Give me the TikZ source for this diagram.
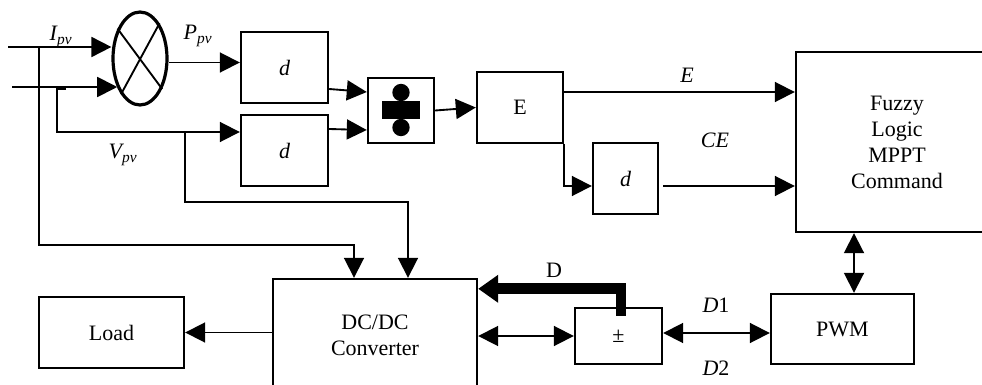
\documentclass[tikz,border=0pt]{standalone}
\usepackage{fontspec}
\setmainfont{Liberation Serif}
\usetikzlibrary{arrows.meta,shapes.geometric,calc}
\begin{document}
\begin{tikzpicture}[x=0.75pt,y=-0.75pt,
  every node/.style={font=\fontsize{16.5}{19.5}\selectfont},
  box/.style={draw,line width=1.8pt,inner sep=0pt,rectangle},
  ln/.style={line width=1.4pt},
  arr/.style={ln,-{Triangle[length=15pt,width=15pt]}},
  darr/.style={ln,{Triangle[length=15pt,width=15pt]}-{Triangle[length=15pt,width=15pt]}},
  bigarr/.style={line width=8pt,-{Triangle[length=15pt,width=20pt]}},
  lab/.style={inner sep=0pt}]
\useasboundingbox (0,0) rectangle (982,385);
\clip (0,0) rectangle (982,385);

% blocks
\node[draw,ellipse,line width=2.4pt,inner sep=0pt,minimum width=40.5pt,minimum height=69.75pt] (mult) at (140,58.5) {};
\draw[ln] (mult.127) -- (mult.-54);
\draw[ln] (mult.-118) -- (mult.61);
\node[box,minimum width=65.25pt,minimum height=53.25pt] (d1) at (284.5,67.5) {\itshape d};
\node[box,minimum width=65.25pt,minimum height=53.25pt] (d2) at (284.5,150.5) {\itshape d};
\node[box,minimum width=49.5pt,minimum height=48.75pt] (sum) at (401,110.5) {};
\fill ($(sum)+(-19,-9)$) rectangle ($(sum)+(19,9)$);
\fill ($(sum)+(0,-18)$) circle[radius=6.5pt];
\fill ($(sum)+(0,17)$) circle[radius=6.5pt];
\node[box,minimum width=64.5pt,minimum height=53.25pt] (E) at (520,107.5) {E};
\node[box,minimum width=48.75pt,minimum height=53.25pt] (d3) at (625.5,178.5) {\itshape d};
\node[box,minimum width=151.5pt,minimum height=135pt,align=center] (fuzzy) at (897,142) {Fuzzy\\Logic\\MPPT\\Command};
\node[box,minimum width=107.25pt,minimum height=52.5pt] (PWM) at (842.5,329) {PWM};
\node[box,minimum width=65.25pt,minimum height=42pt] (pm) at (618.5,336) {\raisebox{-5pt}{±}};
\node[box,minimum width=153pt,minimum height=84pt,align=center] (dc) at (375,335) {DC/DC\\Converter};
\node[box,minimum width=108.75pt,minimum height=53.25pt] (load) at (111.5,332.5) {Load};

% coordinates
\coordinate (in1) at (8,47);
\coordinate (in2) at (12,87);
\coordinate (jI) at (39,47);
\coordinate (vs) at (66,89);
\coordinate (jV) at (185,132);
\coordinate (dcin1) at ($(dc.north)+(-21,0)$);
\coordinate (dcin2) at ($(dc.north)+(33,0)$);
\coordinate (eo) at ($(E.east)+(0,-15.5)$);
\coordinate (d3o) at ($(d3.east)+(4,7.5)$);
\coordinate (pw) at ($(PWM.north)+(11.5,0)$);
\coordinate (Dt) at ($(pm.north)+(2.5,9)$);
\coordinate (Dh) at ($(dc.north east)+(0,11)$);

% connectors
\draw[arr] (in1) -- (in1 -| mult.west);
\draw[arr] (in2) -- (in2 -| mult.-128);
\draw[arr] (jI) -- ++(0,198) -| (dcin1);
\draw[arr] (vs) -- ++(-9,0) |- ($(d2.west)+(0,-18.5)$);
\draw[arr] (jV) -- ++(0,70) -| (dcin2);
\draw[arr] (mult.-8) -- (mult.-8 -| d1.west);
\draw[arr] ($(d1.east)+(0,21.5)$) -- ($(sum.west)+(0,-18.5)$);
\draw[arr] ($(d2.east)+(0,-21.5)$) -- ($(sum.west)+(0,19.5)$);
\draw[arr] (sum.east) -- (E.west);
\draw[arr] (eo) -- (eo -| fuzzy.west);
\draw[arr] (E.south east) |- ($(d3.west)+(0,7.5)$);
\draw[arr] (d3o) -- (d3o -| fuzzy.west);
\draw[darr] (pw |- fuzzy.south) -- (pw);
\draw[darr] ($(pm.east)+(0,-3)$) -- ($(PWM.west)+(0,4)$);
\draw[darr] (dc.east |- pm.west) -- (pm.west);
\draw[bigarr] (Dt) |- (Dh);
\draw[arr] (dc.west |- load.east) -- (load.east);

% labels
\node[lab] (lI) at (61,37) {\itshape I\textsubscript{pv}};
\node[lab] (lP) at (198,36) {\itshape P\textsubscript{pv}};
\node[lab] (lV) at (123,155) {\itshape V\textsubscript{pv}};
\node[lab] (lE) at (687,75) {\itshape E};
\node[lab] (lCE) at (715,140) {\itshape CE};
\node[lab] (lD) at (554,270) {D};
\node[lab] (lD1) at (716,305) {\textit{D}1};
\node[lab] (lD2) at (716,368) {\textit{D}2};
\end{tikzpicture}
\end{document}
